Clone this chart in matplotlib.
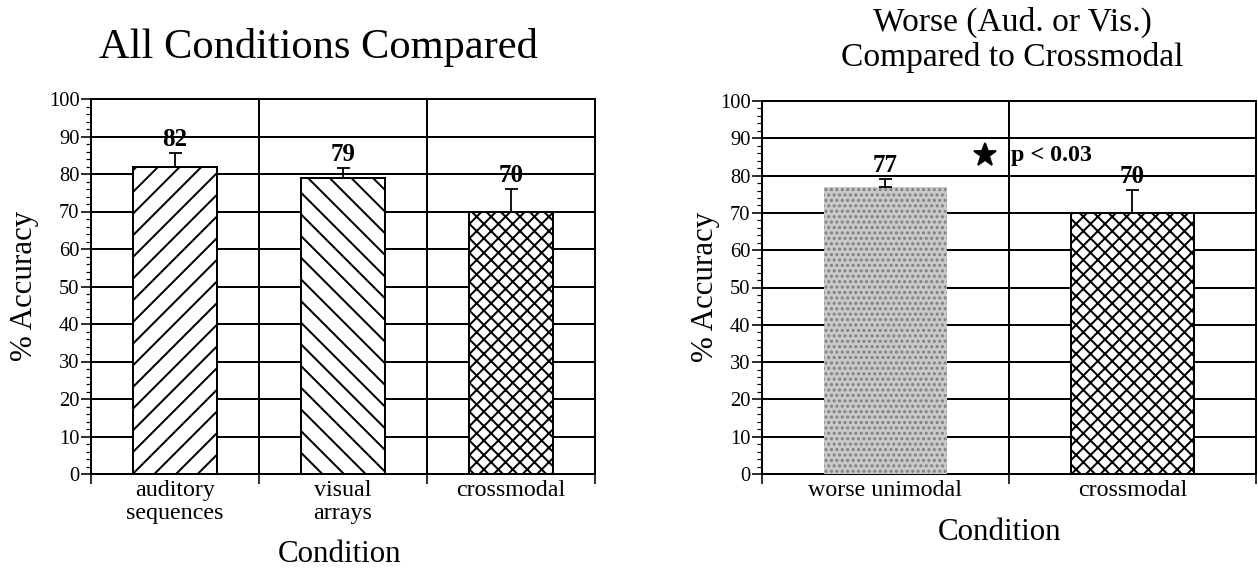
import matplotlib
matplotlib.use("Agg")
import matplotlib.pyplot as plt
from matplotlib.ticker import MultipleLocator

DPI = 130
W, H = 1258, 574
PT = 72 / DPI  # points per pixel

plt.rcParams['font.family'] = ['Liberation Serif', 'DejaVu Serif']
plt.rcParams['hatch.linewidth'] = 2.0 * PT

# Panel 1: all conditions
all_conditions = ['auditory\nsequences', 'visual\narrays', 'crossmodal']
all_means = [82, 79, 70]
all_errors = [3.5, 2.6, 6.1]
all_hatches = ['//', '\\\\', 'xxx']

# Panel 2: worse unimodal vs crossmodal
worse_conditions = ['worse unimodal', 'crossmodal']
worse_means = [77, 70]
worse_errors = [2.1, 6.2]

sig_label = 'p < 0.03'
sig_y = 85.5

fig = plt.figure(figsize=(W / DPI, H / DPI), dpi=DPI)


def px_axes(x0, x1, y0, y1):
    return fig.add_axes([x0 / W, 1 - y1 / H, (x1 - x0) / W, (y1 - y0) / H])


def style_axes(ax, labels):
    n = len(labels)
    ax.set_xlim(0, n)
    ax.set_ylim(0, 100)
    ax.set_yticks(range(0, 101, 10))
    ax.yaxis.set_minor_locator(MultipleLocator(2))
    ax.tick_params(axis='y', which='major', length=10 * PT, width=1.6 * PT,
                   labelsize=20.5 * PT, pad=1.5 * PT, direction='out')
    ax.tick_params(axis='y', which='minor', length=5 * PT, width=1.2 * PT,
                   direction='out')
    centers = [i + 0.5 for i in range(n)]
    ax.set_xticks(centers)
    ax.set_xticklabels(labels, fontsize=24 * PT, linespacing=1.12)
    ax.set_xticks(range(n + 1), minor=True)
    ax.tick_params(axis='x', which='major', length=0, pad=6 * PT)
    ax.tick_params(axis='x', which='minor', length=10 * PT, width=1.6 * PT,
                   direction='out')
    ax.grid(axis='y', which='major', color='black', lw=2.0 * PT)
    ax.grid(axis='x', which='minor', color='black', lw=2.0 * PT)
    ax.set_axisbelow(True)
    for sp in ax.spines.values():
        sp.set_color('black')
        sp.set_linewidth(2.0 * PT)
    return centers


def add_errors_and_labels(ax, centers, means, errors):
    ax.errorbar(centers, means, yerr=[[0] * len(means), errors], fmt='none',
                ecolor='black', elinewidth=1.8 * PT, capsize=6.5 * PT,
                capthick=1.8 * PT, zorder=4)
    for c, m, e in zip(centers, means, errors):
        ax.annotate(f'{m:d}', xy=(c, m + e), xytext=(0, 7 * PT),
                    textcoords='offset points', ha='center', va='baseline',
                    fontsize=25 * PT, fontweight='bold', zorder=5)


# ---- left panel ----
ax1 = px_axes(91, 595, 99, 474)
c1 = style_axes(ax1, all_conditions)
for c, m, h in zip(c1, all_means, all_hatches):
    ax1.bar(c, m, width=0.5, color='white', edgecolor='black', hatch=h,
            linewidth=2.0 * PT, zorder=3)
add_errors_and_labels(ax1, c1, all_means, all_errors)

# ---- right panel ----
ax2 = px_axes(762, 1256, 101, 474)
c2 = style_axes(ax2, worse_conditions)
ax2.bar(c2[0], worse_means[0], width=0.5, color='#c9c9c9', edgecolor='#7f7f7f',
        hatch='....', linewidth=0, zorder=3)
ax2.bar(c2[1], worse_means[1], width=0.5, color='white', edgecolor='black',
        hatch='xxx', linewidth=2.0 * PT, zorder=3)
add_errors_and_labels(ax2, c2, worse_means, worse_errors)
ax2.plot(0.903, sig_y, marker='*', markersize=24 * PT, color='black',
         linestyle='none', zorder=5, clip_on=False)
ax2.text(1.01, sig_y, sig_label, ha='left', va='center', fontsize=24 * PT,
         fontweight='bold', zorder=5)

# ---- titles and axis labels ----
fig.text(318 / W, 1 - 58 / H, 'All Conditions Compared', ha='center',
         va='baseline', fontsize=42.5 * PT)
fig.text(1012 / W, 1 - 31 / H, 'Worse (Aud. or Vis.)', ha='center',
         va='baseline', fontsize=33.5 * PT)
fig.text(1012 / W, 1 - 66 / H, 'Compared to Crossmodal', ha='center',
         va='baseline', fontsize=33.5 * PT)

fig.text(25 / W, 1 - 286 / H, '% Accuracy', rotation=90, ha='center',
         va='center', fontsize=31 * PT)
fig.text(705 / W, 1 - 287 / H, '% Accuracy', rotation=90, ha='center',
         va='center', fontsize=31 * PT)
fig.text(340 / W, 1 - 562 / H, 'Condition', ha='center', va='baseline',
         fontsize=31 * PT)
fig.text(1000 / W, 1 - 540 / H, 'Condition', ha='center', va='baseline',
         fontsize=31 * PT)

fig.savefig('out.png', dpi=DPI, facecolor='white')
